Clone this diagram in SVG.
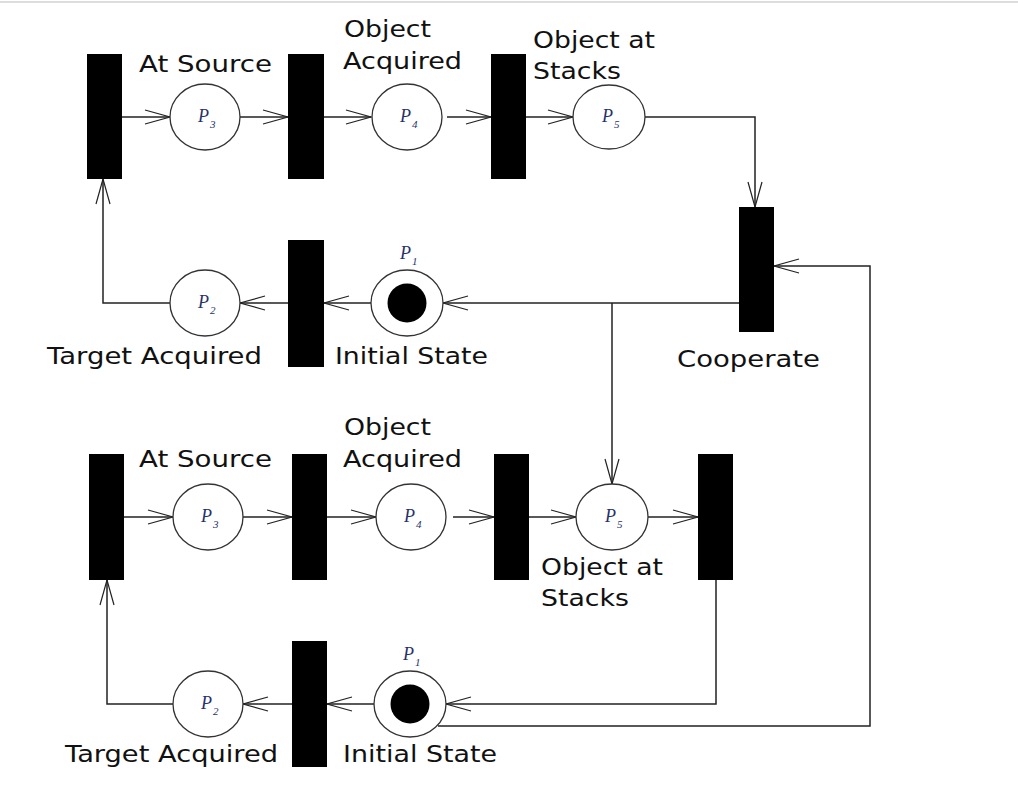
<svg xmlns="http://www.w3.org/2000/svg" width="1018" height="796" viewBox="0 0 1018 796">
<defs>
<marker id="arr" markerWidth="30" markerHeight="18" refX="26" refY="8" orient="auto" markerUnits="userSpaceOnUse">
<path d="M1,1 L26,8 L1,15" fill="none" stroke="#222" stroke-width="1.2"/>
</marker>
</defs>
<style>
.t{fill:#000}
.p{fill:#fff;stroke:#333;stroke-width:1.3}
.tok{fill:#000}
.c{fill:none;stroke:#222;stroke-width:1.5;marker-end:url(#arr)}
.lbl{font-family:"DejaVu Sans",Verdana,sans-serif;font-size:22.5px;fill:#111}
.pl{font-family:"Liberation Serif","DejaVu Serif",serif;font-style:italic;font-size:18px;fill:#26306a}
.ps{font-family:"Liberation Serif","DejaVu Serif",serif;font-style:italic;font-size:11px;fill:#26306a}
</style>
<rect width="1018" height="796" fill="#fff"/>
<line x1="0" y1="2" x2="1018" y2="2" stroke="#ddd" stroke-width="2"/>

<g id="connectors">
<path class="c" d="M122,117 L170,117"/>
<path class="c" d="M240,117 L288,117"/>
<path class="c" d="M324,117 L371,117"/>
<path class="c" d="M447,117 L491,117"/>
<path class="c" d="M526,117 L573,117"/>
<path class="c" d="M645,117 L755,117 L755,207"/>
<path class="c" d="M739,303 L443,303"/>
<path class="c" d="M612,303 L612,484"/>
<path class="c" d="M371,303 L324,303"/>
<path class="c" d="M288,303 L240,303"/>
<path class="c" d="M170,303 L103,303 L103,179"/>
<path class="c" d="M438,726 L870,726 L870,266 L774,266"/>
<path class="c" d="M124,517 L173,517"/>
<path class="c" d="M243,517 L292,517"/>
<path class="c" d="M327,517 L376,517"/>
<path class="c" d="M453,517 L494,517"/>
<path class="c" d="M529,517 L576,517"/>
<path class="c" d="M648,517 L698,517"/>
<path class="c" d="M716,580 L716,704 L446,704"/>
<path class="c" d="M374,704 L327,704"/>
<path class="c" d="M292,704 L243,704"/>
<path class="c" d="M173,704 L107,704 L107,580"/>
</g>

<!-- top net -->
<g id="t1"><rect class="t" x="87" y="54" width="35" height="125"/></g>
<g id="p3"><ellipse class="p" cx="205" cy="117" rx="35" ry="33"/><text class="pl" x="198" y="122">P</text><text class="ps" x="210" y="128">3</text></g>
<g id="t2"><rect class="t" x="288" y="54" width="36" height="125"/></g>
<g id="p4"><ellipse class="p" cx="407" cy="117" rx="35" ry="33"/><text class="pl" x="400" y="122">P</text><text class="ps" x="412" y="128">4</text></g>
<g id="t3"><rect class="t" x="491" y="54" width="35" height="125"/></g>
<g id="p5"><ellipse class="p" cx="609" cy="117" rx="36" ry="32"/><text class="pl" x="602" y="122">P</text><text class="ps" x="614" y="128">5</text></g>
<g id="tcoop"><rect class="t" x="739" y="207" width="35" height="125"/><text class="lbl" x="677" y="367" textLength="143" lengthAdjust="spacingAndGlyphs">Cooperate</text></g>
<g id="t4"><rect class="t" x="288" y="240" width="36" height="127"/></g>
<g id="p1"><ellipse class="p" cx="407" cy="303" rx="36" ry="33"/><circle class="tok" cx="407" cy="303" r="19.5"/><text class="pl" x="400" y="259">P</text><text class="ps" x="412" y="265">1</text></g>
<g id="p2"><ellipse class="p" cx="205" cy="303" rx="35" ry="33"/><text class="pl" x="198" y="308">P</text><text class="ps" x="210" y="314">2</text></g>

<g id="labels-top">
<text class="lbl" x="139" y="72" textLength="133" lengthAdjust="spacingAndGlyphs">At Source</text>
<text class="lbl" x="344" y="37" textLength="87" lengthAdjust="spacingAndGlyphs">Object</text>
<text class="lbl" x="343" y="69" textLength="119" lengthAdjust="spacingAndGlyphs">Acquired</text>
<text class="lbl" x="533" y="48" textLength="122" lengthAdjust="spacingAndGlyphs">Object at</text>
<text class="lbl" x="533" y="79" textLength="88" lengthAdjust="spacingAndGlyphs">Stacks</text>
<text class="lbl" x="47" y="364" textLength="215" lengthAdjust="spacingAndGlyphs">Target Acquired</text>
<text class="lbl" x="335" y="364" textLength="153" lengthAdjust="spacingAndGlyphs">Initial State</text>
</g>

<!-- bottom net -->
<g id="t5"><rect class="t" x="89" y="454" width="35" height="126"/></g>
<g id="p3b"><ellipse class="p" cx="208" cy="517" rx="35" ry="33"/><text class="pl" x="201" y="522">P</text><text class="ps" x="213" y="528">3</text></g>
<g id="t6"><rect class="t" x="292" y="454" width="35" height="126"/></g>
<g id="p4b"><ellipse class="p" cx="411" cy="517" rx="35" ry="33"/><text class="pl" x="404" y="522">P</text><text class="ps" x="416" y="528">4</text></g>
<g id="t7"><rect class="t" x="494" y="454" width="35" height="126"/></g>
<g id="p5b"><ellipse class="p" cx="612" cy="517" rx="36" ry="33"/><text class="pl" x="605" y="522">P</text><text class="ps" x="617" y="528">5</text></g>
<g id="t8"><rect class="t" x="698" y="454" width="35" height="126"/></g>
<g id="t9"><rect class="t" x="292" y="641" width="35" height="126"/></g>
<g id="p1b"><ellipse class="p" cx="410" cy="704" rx="36" ry="33"/><circle class="tok" cx="410" cy="704" r="19.5"/><text class="pl" x="403" y="660">P</text><text class="ps" x="415" y="666">1</text></g>
<g id="p2b"><ellipse class="p" cx="208" cy="704" rx="35" ry="33"/><text class="pl" x="201" y="709">P</text><text class="ps" x="213" y="715">2</text></g>

<g id="labels-bottom">
<text class="lbl" x="139" y="467" textLength="133" lengthAdjust="spacingAndGlyphs">At Source</text>
<text class="lbl" x="344" y="435" textLength="87" lengthAdjust="spacingAndGlyphs">Object</text>
<text class="lbl" x="343" y="467" textLength="119" lengthAdjust="spacingAndGlyphs">Acquired</text>
<text class="lbl" x="541" y="575" textLength="122" lengthAdjust="spacingAndGlyphs">Object at</text>
<text class="lbl" x="541" y="606" textLength="88" lengthAdjust="spacingAndGlyphs">Stacks</text>
<text class="lbl" x="65" y="762" textLength="213" lengthAdjust="spacingAndGlyphs">Target Acquired</text>
<text class="lbl" x="343" y="762" textLength="154" lengthAdjust="spacingAndGlyphs">Initial State</text>
</g>
</svg>
